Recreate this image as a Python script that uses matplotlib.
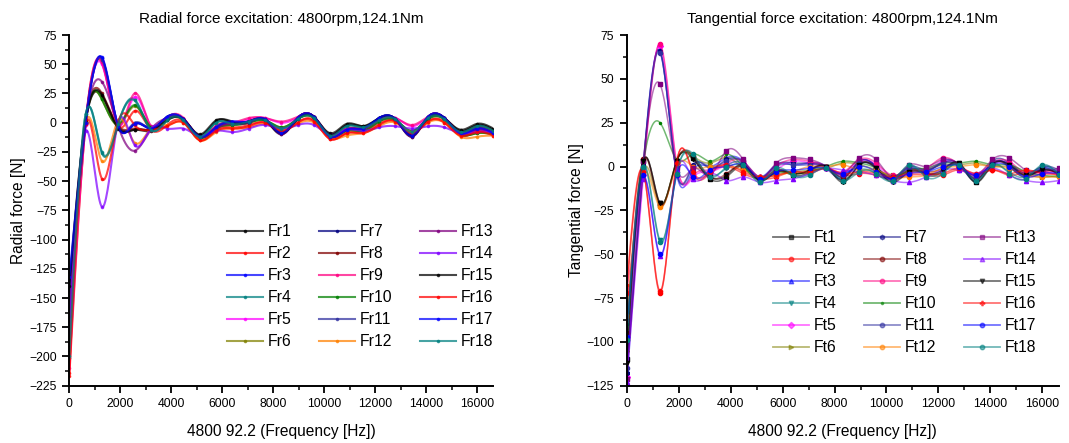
import numpy as np
import matplotlib
matplotlib.use('Agg')
import matplotlib.pyplot as plt
from matplotlib.ticker import MultipleLocator
from matplotlib.lines import Line2D

plt.rcParams['font.family'] = ['Liberation Sans', 'DejaVu Sans']

# ---------------- data ----------------
freq = [0, 640, 1280, 1920, 2560, 3200, 3840, 4480, 5120, 5760, 6400, 7040, 7680,
        8320, 8960, 9600, 10240, 10880, 11520, 12160, 12800, 13440, 14080, 14720,
        15360, 16000, 16640]

radial_labels = ['Fr%d' % i for i in range(1, 19)]
Fr1 = [-143, 1, 23, -4, -6, -7, 3, 3, -11, 1, 1, 0, 2, -10, 4, 5, -9, -1, -3, 3, 3, -12, 5, 4, -6, -1, -5]
Fr2 = [-217, -1, 51, -2, 10, -6, -2, 1, -15, -6, -4, -2, 0, -7, 0, 2, -14, -9, -8, -1, 1, -9, 1, 1, -11, -8, -10]
Fr3 = [-160, 0, 55, -3, -1, -5, 5, 3, -12, -5, 1, 1, 3, -9, 4, 5, -12, -6, -5, 4, 3, -11, 5, 4, -9, -6, -9]
Fr4 = [-201, 7, -26, -1, 20, -6, 2, 2, -12, 0, -1, 1, 2, -5, 3, 4, -11, -3, -4, 2, 3, -8, 4, 3, -8, -3, -7]
Fr5 = [-190, -2, 50, -2, 22, -3, 3, 3, -12, -4, -1, 3, 4, 0, 4, 5, -12, -6, -6, 1, 4, -3, 4, 4, -10, -8, -10]
Fr6 = [-175, 1, 20, -2, 14, -4, 2, 2, -13, -5, -2, 0, 2, -4, 3, 4, -12, -7, -7, 1, 2, -7, 3, 3, -10, -9, -10]
Fr7 = [-150, 0, 55, -3, -1, -5, 5, 3, -12, -4, 0, 1, 3, -9, 4, 5, -12, -6, -5, 4, 3, -11, 5, 4, -9, -5, -9]
Fr8 = [-170, 1, 25, -3, -5, -6, 3, 3, -12, -3, 0, 1, 3, -9, 4, 5, -11, -5, -5, 3, 3, -10, 4, 4, -8, -4, -8]
Fr9 = [-210, -1, 52, -2, 25, -3, 4, 4, -12, -3, 0, 4, 4, 1, 5, 5, -11, -5, -6, 2, 4, -2, 5, 4, -9, -7, -9]
Fr10 = [-185, 1, 20, -1, 15, -4, 3, 2, -13, -5, -2, 0, 2, -4, 3, 4, -12, -7, -7, 1, 2, -7, 3, 3, -10, -9, -10]
Fr11 = [-155, 0, 54, -3, 0, -5, 5, 3, -12, -4, 0, 1, 3, -8, 4, 5, -12, -6, -5, 4, 3, -10, 5, 4, -9, -5, -9]
Fr12 = [-195, 0, -33, 2, -17, -5, -2, 0, -15, -8, -5, -4, -1, -6, -1, 0, -13, -11, -9, -3, 0, -8, 0, 0, -12, -12, -11]
Fr13 = [-165, 0, 35, -3, -24, -6, 4, 3, -12, -5, -1, 0, 3, -10, 4, 5, -12, -6, -5, 3, 3, -12, 5, 4, -9, -6, -9]
Fr14 = [-180, -7, -72, 0, -19, -5, -5, -5, -11, -7, -8, -5, -2, -5, -2, -2, -10, -6, -7, -4, -3, -5, -3, -4, -9, -8, -8]
Fr15 = [-140, 2, 24, -5, -6, -6, 2, 3, -10, 2, 0, 1, 2, -9, 3, 5, -10, -2, -3, 4, 3, -11, 4, 4, -7, -2, -6]
Fr16 = [-214, -1, -48, 1, -2, -6, -3, 0, -15, -7, -5, -3, 0, -7, 0, 1, -14, -9, -9, -2, 1, -9, 1, 0, -11, -8, -11]
Fr17 = [-132, 0, 56, -3, -1, -5, 5, 3, -12, -4, 1, 1, 3, -9, 4, 5, -12, -6, -5, 4, 3, -11, 5, 4, -9, -5, -9]
Fr18 = [-200, 7, -25, -1, 19, -6, 2, 2, -12, 0, -1, 1, 2, -5, 3, 4, -11, -3, -4, 2, 3, -8, 4, 3, -8, -3, -7]

tangential_labels = ['Ft%d' % i for i in range(1, 19)]
Ft1 = [-110, 3, -21, 3, 5, -7, -6, 0, -8, -3, -5, -3, 0, -8, 1, 0, -8, -2, -4, -3, 1, -9, 2, 0, -6, -1, -5]
Ft2 = [-68, -3, -72, 2, -4, -4, 0, -4, -7, -6, -3, -4, -1, -5, -4, -5, -7, -5, -5, -5, -2, -5, -2, -5, -3, -3, -5]
Ft3 = [-124, 0, 66, -4, -2, 0, 5, 3, -6, 1, 1, 2, 0, -6, 3, 0, -7, -1, -3, 3, 1, -7, 2, 1, -5, -1, -3]
Ft4 = [-100, 1, -42, -4, 6, -5, -1, 0, -8, -2, -5, -4, 0, -7, -2, -4, -7, 0, -5, -3, 1, -7, 0, -3, -6, 0, -4]
Ft5 = [-120, -5, 69, 1, -6, -3, 1, 2, -6, -2, 3, 2, -1, -4, 3, 1, -6, -3, -2, 3, 0, -5, 1, 2, -5, -4, -4]
Ft6 = [-105, -2, -22, 3, 6, 2, 5, -1, -6, -3, -3, -2, -1, 2, 1, -2, -5, -3, -2, 1, 1, 2, 0, 0, -4, -6, -5]
Ft7 = [-118, 1, 66, -3, 1, -1, 4, 2, -7, 1, 2, 2, -1, -7, 3, 0, -7, 0, -2, 2, 1, -8, 3, 2, -4, 0, -2]
Ft8 = [-95, 4, -22, 3, 6, -6, -4, 0, -7, -2, -4, -2, 0, -6, 2, -1, -7, -2, -3, -1, 1, -7, 2, 0, -5, -2, -4]
Ft9 = [-70, -2, 70, 2, -5, -2, 2, 3, -6, 0, 4, 3, 0, -3, 4, 2, -5, -2, -1, 5, 1, -4, 2, 3, -4, -3, -3]
Ft10 = [-90, 2, 25, 4, 7, 3, 7, 0, -7, -4, -4, -3, 0, 3, 2, -1, -6, -2, -1, 2, 2, 3, 1, 1, -3, -5, -6]
Ft11 = [-115, 0, 65, -3, 0, 0, 3, 3, -6, 0, 1, 1, 0, -5, 2, -1, -6, -1, -2, 2, 0, -6, 2, 1, -5, -2, -3]
Ft12 = [-85, -4, -23, 0, 0, 0, 0, -2, -6, -5, -3, 0, 0, 1, -2, -2, -6, -6, -5, -1, 0, 1, 0, -1, -5, -6, -6]
Ft13 = [-121, 3, 47, -1, -1, -5, 9, 4, -7, 2, 5, 4, 0, -4, 5, 4, -6, 1, 0, 4, 1, -5, 4, 5, -2, -3, -1]
Ft14 = [-123, -7, -51, -2, -7, -4, -8, -6, -9, -8, -7, -4, -1, -2, -3, -5, -8, -9, -6, -2, -2, -4, -1, -5, -8, -9, -8]
Ft15 = [-112, 3, -21, 3, 4, -6, -5, 1, -8, -3, -4, -2, 0, -9, 1, -1, -9, -3, -4, -2, 2, -9, 1, 1, -5, -2, -4]
Ft16 = [-72, -3, -71, 2, -3, -3, 1, -3, -6, -5, -3, -3, -1, -4, -3, -4, -6, -4, -4, -4, -1, -4, -2, -4, -2, -4, -4]
Ft17 = [-97, -5, -50, -5, -6, -2, 0, 1, -7, -3, -2, -1, -1, -4, 0, -3, -7, -4, -3, 0, 0, -5, 1, 0, -6, -4, -4]
Ft18 = [-99, 0, -43, -4, 7, -6, 0, 1, -9, -1, -5, -5, -1, -8, -3, -4, -8, 1, -6, -4, 1, -8, 1, -4, -7, 1, -5]

radial = [Fr1, Fr2, Fr3, Fr4, Fr5, Fr6, Fr7, Fr8, Fr9, Fr10, Fr11, Fr12, Fr13, Fr14, Fr15, Fr16, Fr17, Fr18]
tangential = [Ft1, Ft2, Ft3, Ft4, Ft5, Ft6, Ft7, Ft8, Ft9, Ft10, Ft11, Ft12, Ft13, Ft14, Ft15, Ft16, Ft17, Ft18]

# ---------------- style ----------------
colors = ['#000000', '#FF0000', '#0000FF', '#008080', '#FF00FF', '#808000',
          '#000080', '#800000', '#FF0080', '#008000', '#3030A0', '#FF8000',
          '#800080', '#8000FF', '#000000', '#FF0000', '#0000FF', '#008080']
t_markers = ['s', 'o', '^', 'v', 'D', '>', 'h', 'o', 'o', '.', 'o', 'o',
             's', '^', 'v', 'P', 'o', 'o']


def smooth(x, y, per=20):
    x = np.asarray(x, float)
    y = np.asarray(y, float)
    n = len(x)
    h = np.diff(x)
    A = np.zeros((n, n))
    b = np.zeros(n)
    A[0, 0] = A[-1, -1] = 1
    for i in range(1, n - 1):
        A[i, i - 1] = h[i - 1]
        A[i, i] = 2 * (h[i - 1] + h[i])
        A[i, i + 1] = h[i]
        b[i] = 6 * ((y[i + 1] - y[i]) / h[i] - (y[i] - y[i - 1]) / h[i - 1])
    M = np.linalg.solve(A, b)
    xs, ys = [], []
    for i in range(n - 1):
        t = np.linspace(x[i], x[i + 1], per, endpoint=(i == n - 2))
        a = x[i + 1] - t
        c = t - x[i]
        s = ((M[i] * a ** 3 + M[i + 1] * c ** 3) / (6 * h[i])
             + (y[i] / h[i] - M[i] * h[i] / 6) * a
             + (y[i + 1] / h[i] - M[i + 1] * h[i] / 6) * c)
        xs.append(t)
        ys.append(s)
    return np.concatenate(xs), np.concatenate(ys)


W, H = 1069, 443
fig = plt.figure(figsize=(W / 100, H / 100), dpi=100)
ax1 = fig.add_axes([69.3 / W, 1 - 385.7 / H, (493.3 - 69.3) / W, (385.7 - 35) / H])
ax2 = fig.add_axes([626.7 / W, 1 - 385.7 / H, (1059 - 626.7) / W, (385.7 - 35) / H])

per = 20
npts = len(freq)
mark_idx = [per * k for k in range(npts - 1)] + [per * (npts - 1) - 1]

for vals, lab, col in zip(radial, radial_labels, colors):
    xs, ys = smooth(freq, vals, per)
    ax1.plot(xs, ys, color=col, lw=1.5, alpha=0.72, marker='.', markersize=3.2,
             markevery=mark_idx, label=lab)

for vals, lab, col, mk in zip(tangential, tangential_labels, colors, t_markers):
    xs, ys = smooth(freq, vals, per)
    ax2.plot(xs, ys, color=col, lw=1.1, alpha=0.55, label=lab)
    ax2.plot(freq, vals, ls='none', marker=mk, color=col, markersize=3.0)

for ax, ylo, ttl, ylab in [(ax1, -225, 'Radial force excitation: 4800rpm,124.1Nm', 'Radial force [N]'),
                           (ax2, -125, 'Tangential force excitation: 4800rpm,124.1Nm', 'Tangential force [N]')]:
    ax.set_xlim(0, 16640)
    ax.set_ylim(ylo, 75)
    ax.xaxis.set_major_locator(MultipleLocator(2000))
    ax.xaxis.set_minor_locator(MultipleLocator(1000))
    ax.yaxis.set_major_locator(MultipleLocator(25))
    ax.yaxis.set_minor_locator(MultipleLocator(12.5))
    for s in ['top', 'right']:
        ax.spines[s].set_visible(False)
    for s in ['left', 'bottom']:
        ax.spines[s].set_linewidth(1.4)
    ax.tick_params(which='major', direction='out', length=5, width=1.3, labelsize=8.8, pad=4)
    ax.tick_params(which='minor', direction='out', length=3, width=1.1)
    ax.set_title(ttl, fontsize=11, pad=9)
    ax.set_ylabel(ylab, fontsize=11.2, labelpad=2)
    ax.set_xlabel('4800 92.2 (Frequency [Hz])', fontsize=11.2, labelpad=10)

# legends
h1, l1 = ax1.get_legend_handles_labels()
ax1.legend(h1, l1, ncol=3, loc='upper left', bbox_to_anchor=(227 / W, 1 - 224 / H),
           bbox_transform=fig.transFigure, frameon=False, fontsize=11.3,
           handlelength=2.3, handletextpad=0.3, columnspacing=1.75,
           labelspacing=0.45, borderpad=0, borderaxespad=0, numpoints=1)

h2 = [Line2D([], [], color=c, lw=1.3, alpha=0.55, marker=m, markersize=3.2,
             markerfacecolor=c, markeredgecolor=c) for c, m in zip(colors, t_markers)]
ax2.legend(h2, tangential_labels, ncol=3, loc='upper left', bbox_to_anchor=(773 / W, 1 - 230 / H),
           bbox_transform=fig.transFigure, frameon=False, fontsize=11.3,
           handlelength=2.3, handletextpad=0.3, columnspacing=1.75,
           labelspacing=0.45, borderpad=0, borderaxespad=0, numpoints=1)

fig.savefig('out.png', dpi=100)
